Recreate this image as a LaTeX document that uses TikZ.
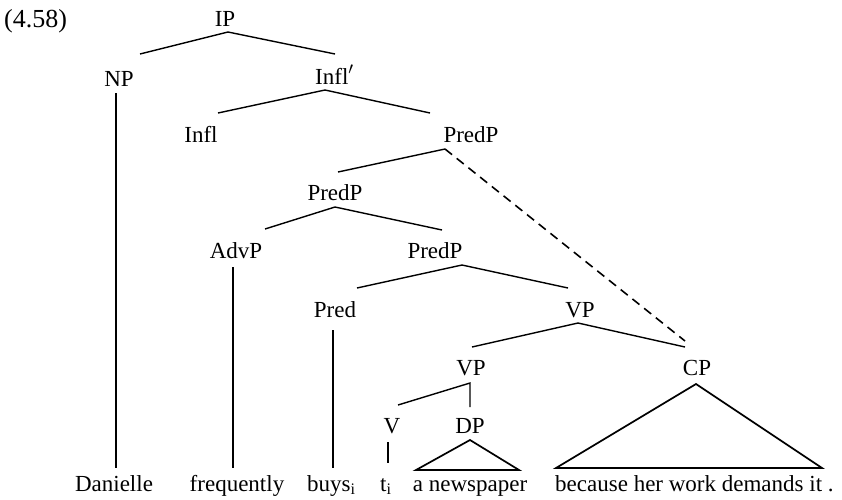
\documentclass[tikz,border=0pt]{standalone}
\usepackage{fontspec}
\setmainfont{Liberation Serif}
\begin{document}
\begin{tikzpicture}[x=1pt,y=-1pt,
  lab/.style={inner sep=0pt, anchor=base, font=\fontsize{23}{27}\selectfont},
  branch/.style={line width=1.4pt},
  roof/.style={line width=1.7pt, line join=miter},
  movement/.style={line width=1.6pt, dash pattern=on 9pt off 6pt}]
\useasboundingbox (0,0) rectangle (842,499);

% example number
\node[lab, anchor=base west, font=\fontsize{26}{30}\selectfont] (num) at (4,27) {(4.58)};

% labels
\node[lab] (IP)    at (225,26)  {IP};
\node[lab] (NP)    at (119,86)  {NP};
\node[lab, anchor=base west] (Inflbar) at (315,84) {Infl$'$};
\node[lab] (Infl)  at (201,142) {Infl};
\node[lab] (PredPa) at (471,142) {PredP};
\node[lab] (PredPb) at (335,200) {PredP};
\node[lab] (AdvP)  at (236,258) {AdvP};
\node[lab] (PredPc) at (435,258) {PredP};
\node[lab] (Pred)  at (335,317) {Pred};
\node[lab] (VPa)   at (580,317) {VP};
\node[lab] (VPb)   at (471,375) {VP};
\node[lab] (CP)    at (697,375) {CP};
\node[lab] (V)     at (392,433) {V};
\node[lab] (DP)    at (470,433) {DP};

% terminals
\node[lab] (w1) at (114,491) {Danielle};
\node[lab] (w2) at (237,491) {frequently};
\node[lab, anchor=base west] (w3) at (307,491) {buys\textsubscript{i}};
\node[lab, anchor=base west] (w4) at (380,491) {t\textsubscript{i}};
\node[lab] (w5) at (470,491) {a newspaper};
\node[lab, anchor=base west] (w6) at (555,491) {because her work demands it .};

% branch end points
\coordinate (IP-d)  at (228,32);
\coordinate (NP-u)  at (140,54);
\coordinate (Ib-u)  at (335,54);
\coordinate (Ib-d)  at (325,90);
\coordinate (In-u)  at (218,113);
\coordinate (Pa-u)  at (430,113);
\coordinate (Pa-d)  at (445,149);
\coordinate (Pb-u)  at (338,172);
\coordinate (Pb-d)  at (335,207);
\coordinate (Ad-u)  at (265,229);
\coordinate (Pc-u)  at (442,230);
\coordinate (Pc-d)  at (462,265);
\coordinate (Pr-u)  at (357,288);
\coordinate (Va-u)  at (568,288);
\coordinate (Va-d)  at (578,323);
\coordinate (Vb-u)  at (472,347);
\coordinate (CP-u)  at (685,347);
\coordinate (CP-t)  at (685,341);
\coordinate (Vb-d)  at (470,383);
\coordinate (V-u)   at (398,405);
\coordinate (DP-u)  at (470,407);
\coordinate (NP-d)  at (116,93);
\coordinate (w1-u)  at (116,468);
\coordinate (Ad-d)  at (233,267);
\coordinate (w2-u)  at (233,468);
\coordinate (Pr-d)  at (333,330);
\coordinate (w3-u)  at (333,468);
\coordinate (V-d)   at (388,442);
\coordinate (w4-u)  at (388,463);
\coordinate (DP-d)  at (470,440);
\coordinate (w5-l)  at (416,470);
\coordinate (w5-r)  at (519,470);
\coordinate (CP-d)  at (696,384);
\coordinate (w6-l)  at (556,468);
\coordinate (w6-r)  at (822,468);

% branches
\draw[branch] (NP-u) -- (IP-d) -- (Ib-u);
\draw[branch] (In-u) -- (Ib-d) -- (Pa-u);
\draw[branch] (Pa-d) -- (Pb-u);
\draw[branch] (Ad-u) -- (Pb-d) -- (Pc-u);
\draw[branch] (Pr-u) -- (Pc-d) -- (Va-u);
\draw[branch] (Vb-u) -- (Va-d) -- (CP-u);
\draw[branch] (V-u) -- (Vb-d) -- (DP-u);
\draw[branch] (NP-d) -- (w1-u);
\draw[branch] (Ad-d) -- (w2-u);
\draw[branch] (Pr-d) -- (w3-u);
\draw[branch] (V-d) -- (w4-u);
\draw[movement] (Pa-d) -- (CP-t);

% roofs
\draw[roof] (w5-l) -- (DP-d) -- (w5-r) -- cycle;
\draw[roof] (w6-l) -- (CP-d) -- (w6-r) -- cycle;
\end{tikzpicture}
\end{document}
